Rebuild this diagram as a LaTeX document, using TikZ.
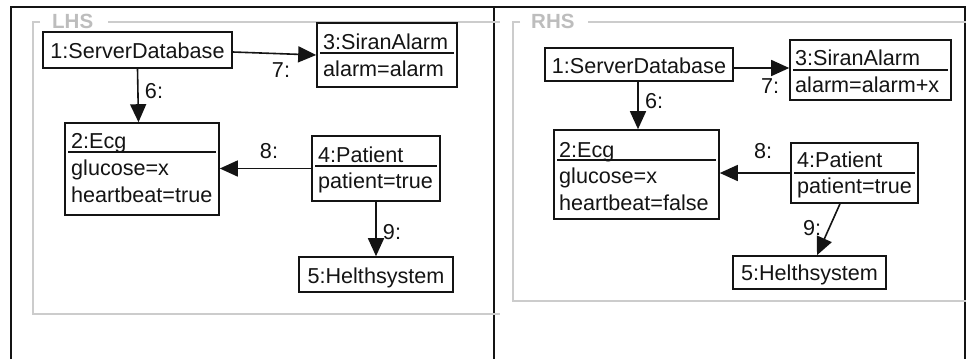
\documentclass[tikz,border=0pt]{standalone}
\usepackage{fontspec}
\setmainfont{Liberation Sans}
\usetikzlibrary{arrows.meta,calc}

\definecolor{ink}{HTML}{141414}
\definecolor{framegrey}{HTML}{CCCCCC}
\definecolor{titlegrey}{HTML}{BDBDBD}

\tikzset{
  objbox/.style={draw=ink, line width=1.6pt, inner sep=0pt, fill=white},
  txt/.style={inner sep=0pt, anchor=base west, text=ink,
              font=\fontsize{21.6}{27}\selectfont},
  ctxt/.style={txt, anchor=base},
  lbl/.style={inner sep=0pt, text=ink, text height=15pt, text depth=0pt,
              font=\fontsize{21.6}{27}\selectfont},
  sep/.style={draw=ink, line width=1.6pt},
  msg/.style={draw=ink, line width=1.6pt,
              -{Triangle[length=18pt, width=16pt]}},
  panel/.style={draw=ink, line width=1.6pt},
  gframe/.style={draw=framegrey, line width=1.8pt},
  gtitle/.style={inner sep=0pt, anchor=base west, text=titlegrey,
                 font=\fontsize{20.5}{24}\selectfont\bfseries},
}

\begin{document}
\begin{tikzpicture}[x=1pt, y=-1pt]
  \useasboundingbox (0,0) rectangle (966,359);
  \fill[white] (0,0) rectangle (966,359);

  % outer panels
  \draw[panel] (11,359) -- (11,7) -- (965,7) -- (965,359);
  \draw[panel] (494,7) -- (494,359);

  % LHS grey frame with title
  \draw[gframe] (40,22) -- (33,22) -- (33,314) -- (500,314);
  \draw[gframe] (108,22) -- (500,22);
  \node[gtitle] (lhsT) at (52,28.5) {LHS};

  % RHS grey frame with title
  \draw[gframe] (520,22) -- (513,22) -- (513,301) -- (966,301);
  \draw[gframe] (588,22) -- (966,22);
  \node[gtitle] (rhsT) at (531,28.5) {RHS};

  % ---------- left-hand side ----------
  \node[objbox, minimum width=189pt, minimum height=36pt] (l1) at (137.5,50) {};
  \node[ctxt] (l1t) at (137.5,58) {1:ServerDatabase};

  \node[objbox, minimum width=140pt, minimum height=64pt] (l3) at (387,55) {};
  \node[txt] (l3a) at (323,49) {3:SiranAlarm};
  \node[txt] (l3b) at (323,76) {alarm=alarm};
  \draw[sep] ($(l3.west)+(4,-2)$) -- ($(l3.east)+(-4,-2)$);

  \node[objbox, minimum width=154pt, minimum height=92pt] (l2) at (142,169) {};
  \node[txt] (l2a) at (71,148) {2:Ecg};
  \node[txt] (l2b) at (71,175) {glucose=x};
  \node[txt] (l2c) at (71,202) {heartbeat=true};
  \draw[sep] ($(l2.north west)+(4,30)$) -- ($(l2.north east)+(-4,30)$);

  \node[objbox, minimum width=128pt, minimum height=65pt] (l4) at (376,168.5) {};
  \node[txt] (l4a) at (318,162) {4:Patient};
  \node[txt] (l4b) at (318,188) {patient=true};
  \draw[sep] ($(l4.north west)+(4,31)$) -- ($(l4.north east)+(-4,31)$);

  \node[objbox, minimum width=154pt, minimum height=35pt] (l5) at (376,274.5) {};
  \node[ctxt] (l5t) at (376,283) {5:Helthsystem};

  \draw[msg] (l1.south) -- ([xshift=-3.5pt]l2.north);
  \draw[msg] ([yshift=-2pt]l1.east) -- (l3.west);
  \draw[msg] (l4.west) -- (l4.west -| l2.east);
  \draw[msg] (l4.south) -- (l5.north);

  \node[lbl] (l6) at (154,91) {6:};
  \node[lbl] (l7) at (281,70) {7:};
  \node[lbl] (l8) at (269,151) {8:};
  \node[lbl] (l9) at (392,232) {9:};

  % ---------- right-hand side ----------
  \node[objbox, minimum width=188pt, minimum height=33pt] (r1) at (639,64.5) {};
  \node[ctxt] (r1t) at (639,73) {1:ServerDatabase};

  \node[objbox, minimum width=161pt, minimum height=60pt] (r3) at (870.5,70) {};
  \node[txt] (r3a) at (795,65) {3:SiranAlarm};
  \node[txt] (r3b) at (795,92) {alarm=alarm+x};
  \draw[sep] ($(r3.west)+(4,0)$) -- ($(r3.east)+(-4,0)$);

  \node[objbox, minimum width=165pt, minimum height=89pt] (r2) at (636.5,174.5) {};
  \node[txt] (r2a) at (559,157) {2:Ecg};
  \node[txt] (r2b) at (559,183) {glucose=x};
  \node[txt] (r2c) at (559,210) {heartbeat=false};
  \draw[sep] ($(r2.north west)+(4,31)$) -- ($(r2.north east)+(-4,31)$);

  \node[objbox, minimum width=127pt, minimum height=60pt] (r4) at (854.5,173) {};
  \node[txt] (r4a) at (797,167) {4:Patient};
  \node[txt] (r4b) at (797,193) {patient=true};
  \draw[sep] ($(r4.west)+(4,0)$) -- ($(r4.east)+(-4,0)$);

  \node[objbox, minimum width=153pt, minimum height=33pt] (r5) at (809.5,272.5) {};
  \node[ctxt] (r5t) at (809.5,280) {5:Helthsystem};

  \draw[msg] ([xshift=-1pt]r1.south) -- ([xshift=-1pt]r1.south |- r2.north);
  \draw[msg] ([yshift=-3.5pt]r1.east) -- ([yshift=-3.5pt]r1.east -| r3.west);
  \draw[msg] (r4.west) -- (r4.west -| r2.east);
  \draw[msg] ([xshift=-14.5pt]r4.south) -- ([xshift=7.5pt]r5.north);

  \node[lbl] (r6) at (654,101) {6:};
  \node[lbl] (r7) at (770,86) {7:};
  \node[lbl] (r8) at (763,151) {8:};
  \node[lbl] (r9) at (812,228) {9:};
\end{tikzpicture}
\end{document}
